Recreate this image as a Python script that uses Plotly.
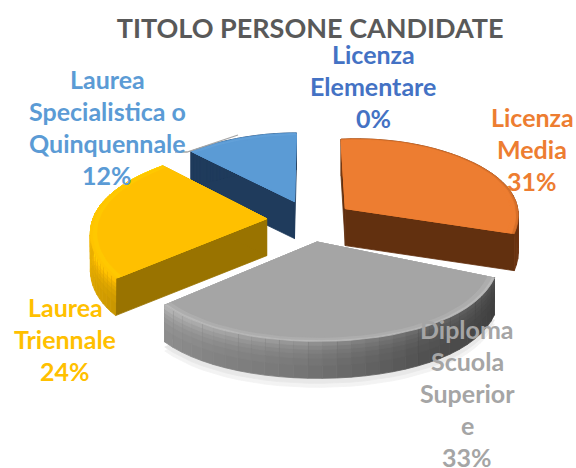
import math
import plotly.graph_objects as go

categories = ["Licenza Elementare", "Licenza Media", "Diploma Scuola Superiore", "Laurea Triennale", "Laurea Specialistica o Quinquennale"]
values = [0, 31, 33, 24, 12]
label_lines = [["Licenza", "Elementare"], ["Licenza", "Media"], ["Diploma", "Scuola", "Superior", "e"], ["Laurea", "Triennale"], ["Laurea", "Specialistica o", "Quinquennale"]]
label_colors = ["#4472c4", "#ed7d31", "#a5a5a5", "#ffc000", "#5b9bd5"]
label_tops = [54, 117, 329, 307, 79]
label_x = [373, 532, 467, 65, 107]

STYLE = {
    1: dict(top="#ed7d31", light="#ed7d31", face="#62300f", rim=[(0, "#7a3a12"), (112, "#6a3210")], edge="#d8702a", tilt=7),
    2: dict(top="#a5a5a5", light="#adadad", face="#6a6a6a", rim=[(112, "#3f3f3f"), (150, "#525252"), (185, "#767676"), (231, "#8f8f8f")], edge="#b9b9b9", tilt=0),
    3: dict(top="#ffc000", light="#ffc800", face="#997300", rim=[(230, "#c99600"), (262, "#e8ae00"), (317, "#ffc000")], edge="#ffc400", tilt=0),
    4: dict(top="#5b9bd5", light="#62a0d8", face="#1f3b5c", rim=[(317, "#1f3b5c"), (360, "#1f3b5c")], edge="#5b9bd5", tilt=0),
}
CX, CY = 310, 220
A, KX = 174, 0.14
EXPL = 0.25
DEPTH = 37
BANDS = [(DEPTH, 1.0), (24, 1.03), (17, 1.07), (12, 1.12), (8, 1.18), (4, 1.26)]


def project(X, Y):
    sx = 1 / (1 + KX * Y)
    b = 84 - 14 * math.tanh(1.5 * Y)
    return CX + A * X * sx, CY - b * Y


def hex2rgb(c):
    return tuple(int(c[i:i + 2], 16) for i in (1, 3, 5))


def interp(stops, a):
    if a <= stops[0][0]:
        return hex2rgb(stops[0][1])
    for (a0, c0), (a1, c1) in zip(stops, stops[1:]):
        if a <= a1:
            t = (a - a0) / (a1 - a0)
            r0, r1 = hex2rgb(c0), hex2rgb(c1)
            return tuple(r0[i] + (r1[i] - r0[i]) * t for i in range(3))
    return hex2rgb(stops[-1][1])


def rgb(c, f=1.0):
    return "rgb(%d,%d,%d)" % tuple(min(255, max(0, v * f)) for v in c)


fig = go.Figure()


def poly(pts, color):
    fig.add_trace(go.Scatter(
        x=[p[0] for p in pts] + [pts[0][0]], y=[p[1] for p in pts] + [pts[0][1]],
        mode="lines", fill="toself", fillcolor=color,
        line=dict(color=color, width=0.8), hoverinfo="skip", showlegend=False))


def wedge(i, a0, a1):
    st = STYLE[i]
    mid = math.radians((a0 + a1) / 2)
    ox, oy = EXPL * math.sin(mid), EXPL * math.cos(mid)

    def pt(ang, r=1.0, drop=0.0):
        a = math.radians(ang)
        x, y = project(ox + r * math.sin(a), oy + r * math.cos(a))
        return x, y + drop - st["tilt"] * r * max(0, math.sin(a))

    n = 30
    angs = [a0 + (a1 - a0) * k / n for k in range(n + 1)]
    apex = pt(a0, 0)
    if i == 2:
        for grow, col in ((9, "#f3f3f3"), (5, "#e8e8e8")):
            poly([pt(a, 1.0, DEPTH + grow) for a in angs] + [pt(a1, 0.5, DEPTH)], col)
    for a in (a0, a1):
        p = pt(a)
        poly([apex, p, (p[0], p[1] + DEPTH), (apex[0], apex[1] + DEPTH)], st["face"])
    for k in range(n):
        c = interp(st["rim"], (angs[k] + angs[k + 1]) / 2)
        p, q = pt(angs[k]), pt(angs[k + 1])
        for d, f in BANDS if i in (2, 3) else BANDS[:1]:
            poly([p, q, (q[0], q[1] + d), (p[0], p[1] + d)], rgb(c, f))
    poly([apex] + [pt(a, 1.0) for a in angs], st["edge"])
    poly([apex] + [pt(a, 0.985) for a in angs], st["light"])
    poly([apex] + [pt(a, 0.96) for a in angs], st["top"])


spans = {}
start = 0.0
for i, v in enumerate(values):
    spans[i] = (start, start + v * 3.6)
    start += v * 3.6
for i in (4, 1, 3, 2):
    wedge(i, *spans[i])

fig.add_trace(go.Scatter(x=[175, 187, 238], y=[152, 152, 135], mode="lines",
                         line=dict(color="#a6a6a6", width=1.3), hoverinfo="skip", showlegend=False))

FS = 25
SP = 32
for i, lines in enumerate(label_lines):
    txt = lines + ["%d%%" % values[i]]
    for j, t in enumerate(txt):
        fig.add_annotation(x=label_x[i], y=label_tops[i] + j * SP,
                           text="<b>%s</b>" % t, showarrow=False,
                           font=dict(family="Lato", size=FS, color=label_colors[i]),
                           xanchor="center", yanchor="middle")

fig.update_layout(
    width=576, height=468, margin=dict(l=0, r=0, t=0, b=0),
    paper_bgcolor="white", plot_bgcolor="white", showlegend=False,
    title=dict(text="<b>TITOLO PERSONE CANDIDATE</b>", x=0.5385, xanchor="center", y=0.94, yanchor="middle",
               font=dict(family="Lato", size=27, color="#595959")),
    xaxis=dict(range=[0, 576], visible=False, fixedrange=True),
    yaxis=dict(range=[468, 0], visible=False, fixedrange=True),
)
fig.write_html("out.html", config=dict(displayModeBar=False),
               post_script="document.body.style.margin='0';document.documentElement.style.overflow='hidden';")
